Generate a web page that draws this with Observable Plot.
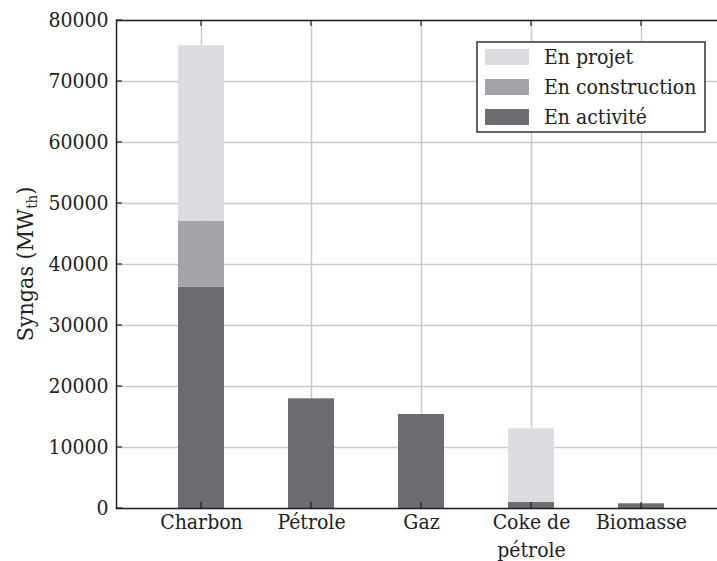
<!DOCTYPE html>
<html><head><meta charset="utf-8">
<script src="https://cdn.jsdelivr.net/npm/d3@7"></script>
<script src="https://cdn.jsdelivr.net/npm/@observablehq/plot@0.6"></script>
<style>
body{margin:0;overflow:hidden;background:#fff}
#chart{position:relative;width:717px;height:561px;overflow:hidden}
#chart svg{max-width:none !important;width:740px;height:561px}
</style></head>
<body><div id="chart"></div>
<script>
const categories = ["Charbon", "Pétrole", "Gaz", "Coke de pétrole", "Biomasse"];
const categoryLabels = ["Charbon", "Pétrole", "Gaz", "Coke de\npétrole", "Biomasse"];
const series = ["En activité", "En construction", "En projet"];
const enActivite = [36280, 17980, 15410, 980, 770];
const enConstruction = [10820, 0, 0, 0, 0];
const enProjet = [28750, 0, 0, 12080, 0];
const yTicks = [0, 10000, 20000, 30000, 40000, 50000, 60000, 70000, 80000];
const seriesColors = ["#6b6c70", "#a4a5a9", "#dcdde0"];
const legendOrder = ["En projet", "En construction", "En activité"];

const FONT = "'DejaVu Serif Condensed', 'DejaVu Serif', serif";
const values = [enActivite, enConstruction, enProjet];
const data = [];
series.forEach((s, si) => categories.forEach((c, ci) => {
  data.push({category: c, series: s, value: values[si][ci]});
}));
const labelOf = new Map(categories.map((c, i) => [c, categoryLabels[i]]));
const colorOf = new Map(series.map((s, i) => [s, seriesColors[i]]));

const plot = Plot.plot({
  width: 740,
  height: 561,
  marginLeft: 116,
  marginRight: 14,
  marginTop: 20,
  marginBottom: 53,
  style: {fontFamily: FONT, fontSize: "21px", color: "#222", background: "#fff", maxWidth: "none"},
  x: {domain: categories, paddingInner: 0.586, paddingOuter: 0.541, label: null},
  y: {domain: [0, 80000], label: null},
  color: {domain: series, range: seriesColors},
  marks: [
    Plot.gridY(yTicks, {stroke: "#c9c9c9", strokeOpacity: 1, strokeWidth: 1.5}),
    Plot.gridX(categories, {stroke: "#c9c9c9", strokeOpacity: 1, strokeWidth: 1.5}),
    Plot.barY(data, {x: "category", y: "value", fill: "series", order: series}),
    Plot.frame({stroke: "#222", strokeWidth: 1.5}),
    Plot.axisY(yTicks, {tickSize: 0, tickPadding: 8, tickFormat: d => String(d), fill: "#222"}),
    Plot.axisX(categories, {tickSize: 0, tickPadding: 1, lineHeight: 1.33, tickFormat: d => labelOf.get(d), fill: "#222"})
  ]
});
document.getElementById("chart").appendChild(plot);

const svg = d3.select(plot);
const xs = plot.scale("x");
const ys = plot.scale("y");
const bw = xs.bandwidth || 0;
const yTop = ys.apply(80000), yBottom = ys.apply(0), xLeft = 116;

// inward tick marks
const tg = svg.append("g").attr("stroke", "#222").attr("stroke-width", 1.2);
yTicks.forEach(t => {
  const y = ys.apply(t);
  tg.append("line").attr("x1", xLeft).attr("x2", xLeft + 6).attr("y1", y).attr("y2", y);
});
categories.forEach(c => {
  const x = xs.apply(c) + bw / 2;
  tg.append("line").attr("x1", x).attr("x2", x).attr("y1", yTop).attr("y2", yTop + 6);
  tg.append("line").attr("x1", x).attr("x2", x).attr("y1", yBottom).attr("y2", yBottom - 6);
});

// y axis title
const title = svg.append("text")
  .attr("transform", `translate(33,${(yTop + yBottom) / 2}) rotate(-90)`)
  .attr("text-anchor", "middle")
  .attr("font-family", FONT).attr("font-size", 23).attr("fill", "#222");
title.append("tspan").text("Syngas (MW");
title.append("tspan").attr("font-size", 15).attr("dy", 4).text("th");
title.append("tspan").attr("dy", -4).text(")");

// legend
const lg = svg.append("g").attr("font-family", FONT).attr("font-size", 21).attr("fill", "#222")
  .attr("text-anchor", "start");
lg.append("rect").attr("x", 477).attr("y", 42).attr("width", 228).attr("height", 90)
  .attr("fill", "#fff").attr("stroke", "#333").attr("stroke-width", 1.5);
legendOrder.forEach((s, i) => {
  const cy = 57 + i * 30;
  lg.append("rect").attr("x", 485).attr("y", cy - 8).attr("width", 44).attr("height", 16).attr("fill", colorOf.get(s));
  lg.append("text").attr("x", 544).attr("y", cy).attr("dy", "0.35em").text(s);
});
</script>
</body></html>
